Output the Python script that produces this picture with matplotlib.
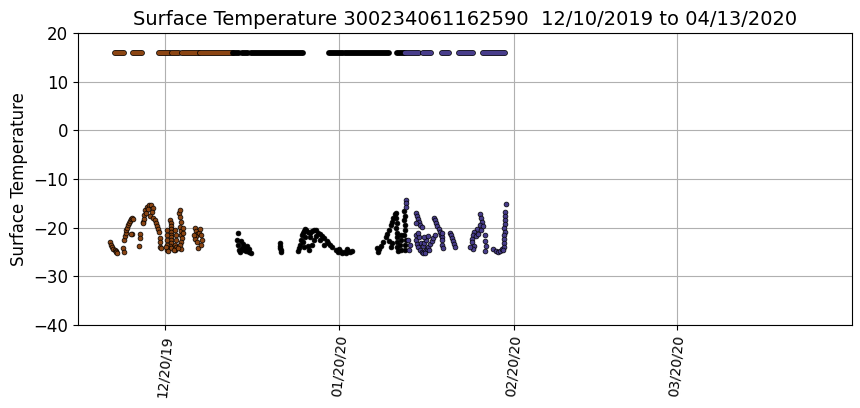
import matplotlib
matplotlib.use("Agg")
import matplotlib.pyplot as plt
import matplotlib.dates as mdates
import matplotlib.patheffects as pe
import pandas as pd
import numpy as np

# ---- data: days since 2019-12-20 and surface temperature ----
base = pd.Timestamp("2019-12-20")
flag_value = 15.8

# runs of consecutive readings at the flag value: (start day, end day)
brown_top_starts = [-8.9, -5.7, -1.1, 1.2, 3.0, 6.2]
brown_top_ends = [-7.3, -4.1, 0.9, 2.5, 6.0, 12.1]
black_top_starts = [12.1, 13.7, 15.3, 29.2, 32.0, 41.3]
black_top_ends = [13.2, 14.8, 24.6, 31.7, 39.9, 42.7]
blue_top_starts = [42.7, 45.9, 49.3, 52.3, 56.6]
blue_top_ends = [45.2, 47.3, 50.4, 54.8, 60.5]

brown_days = [-9.8, -9.6, -9.4, -9.2, -9.0, -8.8, -8.7, -8.5,
              -7.5, -7.4,
              -7.3, -7.1, -7.0, -6.9, -6.7, -6.6, -6.4, -6.2, -6.1, -5.9, -5.7, -5.9, -6.0,
              -4.5, -4.5, -4.6,
              -3.9, -3.7, -3.6, -3.2, -2.8, -2.5, -2.1, -2.3, -2.7, -3.4, -3.7, -3.9, -3.0,
              -2.1, -1.8, -1.6, -1.4, -1.2, -1.1, -0.9, -0.9, -0.9, -0.8,
              0.9, 1.0, 1.0, 1.0, 1.1, 1.1, 1.0, 1.1, 1.0, 0.9, 1.0,
              0.3, 0.4, 0.3, 0.4, 0.3, 0.2,
              1.8, 1.9, 2.0, 1.8, 2.0, 1.7,
              2.5, 2.6, 2.7, 2.8, 2.7, 2.9, 2.8, 3.0, 2.9, 2.7, 2.9, 3.1, 3.2,
              0.5, 1.5, 2.3,
              5.3, 5.5, 5.7, 5.5, 5.3, 5.6, 5.8, 6.0, 6.2, 6.4, 6.6, 6.3, 5.2]
brown_temps = [-23.0, -23.5, -24.0, -24.3, -24.6, -24.8, -25.0, -25.2,
               -24.2, -25.0,
               -22.5, -21.8, -21.0, -20.5, -20.0, -19.4, -19.0, -18.6, -18.2, -18.0, -18.3, -21.3, -21.3,
               -21.3, -22.1, -23.8,
               -18.8, -17.4, -16.4, -15.8, -15.4, -15.3, -16.0, -16.8, -17.6, -17.0, -18.2, -19.0, -16.2,
               -18.0, -18.5, -19.0, -19.6, -20.2, -20.9, -22.1, -23.0, -24.0, -24.2,
               -18.4, -19.0, -19.6, -20.2, -20.8, -21.4, -22.0, -22.6, -23.2, -23.8, -24.2,
               -20.5, -21.5, -22.5, -23.5, -24.5, -24.0,
               -20.5, -21.5, -22.5, -23.5, -24.0, -24.5,
               -17.0, -16.4, -17.8, -18.8, -19.8, -20.6, -21.4, -22.2, -23.0, -23.6, -24.4, -21.0, -20.0,
               -24.8, -24.6, -24.2,
               -20.0, -20.6, -21.2, -21.8, -22.4, -23.0, -24.2, -21.0, -20.3, -21.6, -22.5, -23.6, -21.5]

black_days = [12.8, 13.0, 13.0, 13.2, 13.3, 13.7, 14.0, 14.2, 14.5, 14.7, 14.9, 15.3, 13.9, 14.4, 15.0, 13.5,
              20.4, 20.5, 20.6, 20.6, 20.5,
              23.7, 23.8, 24.0, 24.2, 24.4, 24.6, 24.7, 24.9, 25.1, 24.6, 24.7, 24.9,
              25.4, 25.8, 26.1, 26.5, 26.9, 27.2, 27.6, 27.9, 28.3, 28.7, 29.0, 29.4, 29.7,
              25.8, 26.1, 26.5, 26.9, 27.6, 28.3, 25.4, 25.6,
              30.4, 30.8, 31.1, 31.5, 31.9, 32.2, 32.6, 32.9, 30.9, 32.4, 33.2,
              37.8, 38.1, 38.4, 38.7, 37.6,
              39.2, 39.5, 39.9, 40.2, 40.4, 40.6, 40.8, 39.8, 40.1, 40.3,
              41.0, 41.1, 41.2, 41.1, 41.3, 41.2, 41.3, 41.2, 41.4,
              42.5, 42.6, 42.4, 42.6, 42.7, 42.5, 42.8, 42.6, 42.7,
              41.9, 42.0, 41.8, 41.9]
black_temps = [-22.5, -21.1, -23.5, -24.6, -25.0, -24.2, -24.6, -24.0, -23.8, -24.6, -25.0, -25.2, -23.3, -24.8, -24.3, -22.8,
               -23.2, -23.8, -24.5, -25.0, -24.2,
               -24.8, -24.2, -23.5, -22.5, -21.6, -21.0, -20.6, -20.3, -20.5, -23.0, -24.0, -22.0,
               -20.8, -21.0, -20.6, -20.4, -20.5, -21.0, -21.3, -21.8, -22.2, -22.8, -23.2, -23.6, -24.0,
               -22.0, -23.5, -22.5, -21.8, -22.5, -23.5, -23.8, -24.5,
               -24.6, -25.0, -24.8, -25.2, -24.9, -25.1, -24.8, -25.0, -24.3, -24.4, -24.7,
               -25.0, -24.4, -23.8, -23.0, -24.2,
               -22.0, -21.3, -20.5, -19.5, -18.8, -18.0, -17.2, -22.8, -24.0, -23.2,
               -17.0, -18.0, -19.0, -20.0, -21.0, -22.0, -23.0, -24.0, -24.8,
               -16.5, -17.5, -18.5, -19.5, -20.5, -21.5, -22.5, -23.5, -24.5,
               -21.5, -22.5, -23.5, -24.5]

blue_days = [42.9, 42.9, 42.8, 43.2, 43.5, 43.4,
             44.6, 44.8, 45.0, 45.2, 45.4, 45.6, 44.6,
             44.7, 44.6, 44.8, 45.0, 45.3, 45.6, 45.9, 46.2, 46.5, 46.8, 47.1, 47.4, 47.7, 48.0,
             45.5, 45.8, 46.1, 46.4, 45.2, 46.0, 46.7, 45.0, 47.0, 46.3,
             47.8, 48.0, 48.2, 48.4, 48.7, 48.9, 49.1, 49.2, 49.3,
             49.3, 49.3, 49.4,
             50.6, 50.8, 51.0, 51.2, 51.4, 51.5,
             56.0, 56.2, 56.4, 56.0, 55.5, 55.0, 54.7, 54.5, 54.6, 54.9, 54.8, 55.3, 55.7, 56.2,
             56.5, 56.9, 56.9, 57.0, 56.9, 54.3,
             58.4, 58.8, 59.2, 59.6, 59.9,
             60.6, 60.5, 60.5, 60.4, 60.4, 60.3, 60.4, 60.3, 60.3, 60.2, 60.2, 60.1]
blue_temps = [-14.3, -15.0, -15.8, -22.5, -23.5, -24.5,
              -16.9, -17.6, -18.2, -18.8, -19.4, -19.9, -19.0,
              -21.5, -22.5, -23.3, -24.0, -24.6, -25.0, -25.1, -24.8, -24.4, -23.9, -23.3, -22.7, -22.1, -21.5,
              -23.2, -23.8, -23.2, -22.6, -22.0, -22.0, -21.8, -21.0, -24.6, -25.1,
              -18.0, -18.5, -19.0, -19.6, -20.2, -20.8, -21.4, -22.0, -22.6,
              -21.0, -23.5, -24.2,
              -21.0, -21.6, -22.2, -22.8, -23.4, -23.9,
              -17.2, -18.0, -18.8, -19.5, -20.2, -20.8, -21.5, -22.3, -23.0, -23.7, -24.3, -21.8, -21.2, -20.4,
              -19.6, -21.5, -22.7, -23.8, -24.8, -24.0,
              -24.4, -24.8, -25.0, -24.7, -24.4,
              -15.2, -16.8, -17.6, -18.4, -19.2, -20.0, -20.8, -21.6, -22.4, -23.2, -24.0, -24.6]

series_colors = ["#8B4513", "#000000", "#483D8B"]
xtick_dates = ["2019-12-20", "2020-01-20", "2020-02-20", "2020-03-20"]
x_limits = ["2019-12-04 12:00", "2020-04-20 04:00"]
y_limits = [-40, 20]
title = "Surface Temperature 300234061162590  12/10/2019 to 04/13/2020"


def to_dates(days):
    return base + pd.to_timedelta(np.asarray(days, dtype=float), unit="D")


fig = plt.figure(figsize=(8.6, 4.08), dpi=100)
ax = fig.add_axes([0.0907, 0.2034, 0.9000, 0.7156])
ax.set_axisbelow(True)
ax.grid(True, color="#b0b0b0", linewidth=0.8)

groups = [
    (brown_top_starts, brown_top_ends, brown_days, brown_temps),
    (black_top_starts, black_top_ends, black_days, black_temps),
    (blue_top_starts, blue_top_ends, blue_days, blue_temps),
]
outline = [pe.Stroke(linewidth=4.2, foreground="black"), pe.Normal()]
for (ts, te, d, t), c in zip(groups, series_colors):
    for s0, s1 in zip(ts, te):
        ax.plot(to_dates([s0, s1]), [flag_value, flag_value], color=c,
                linewidth=3.2, solid_capstyle="round", path_effects=outline,
                zorder=3)
    ax.scatter(to_dates(d), t, s=12, c=c, edgecolors="black",
               linewidths=0.5, zorder=3)

ax.set_xlim(pd.Timestamp(x_limits[0]), pd.Timestamp(x_limits[1]))
ax.set_ylim(*y_limits)
ax.set_yticks(np.arange(-40, 21, 10))
ax.set_xticks([pd.Timestamp(s) for s in xtick_dates])
ax.xaxis.set_major_formatter(mdates.DateFormatter("%m/%d/%y"))
for lab in ax.get_xticklabels():
    lab.set_rotation(85)
    lab.set_fontsize(10)
ax.tick_params(axis="y", labelsize=12)
ax.set_ylabel("Surface Temperature", fontsize=12)
ax.set_title(title, fontsize=14)

fig.savefig("out.png", dpi=100)
